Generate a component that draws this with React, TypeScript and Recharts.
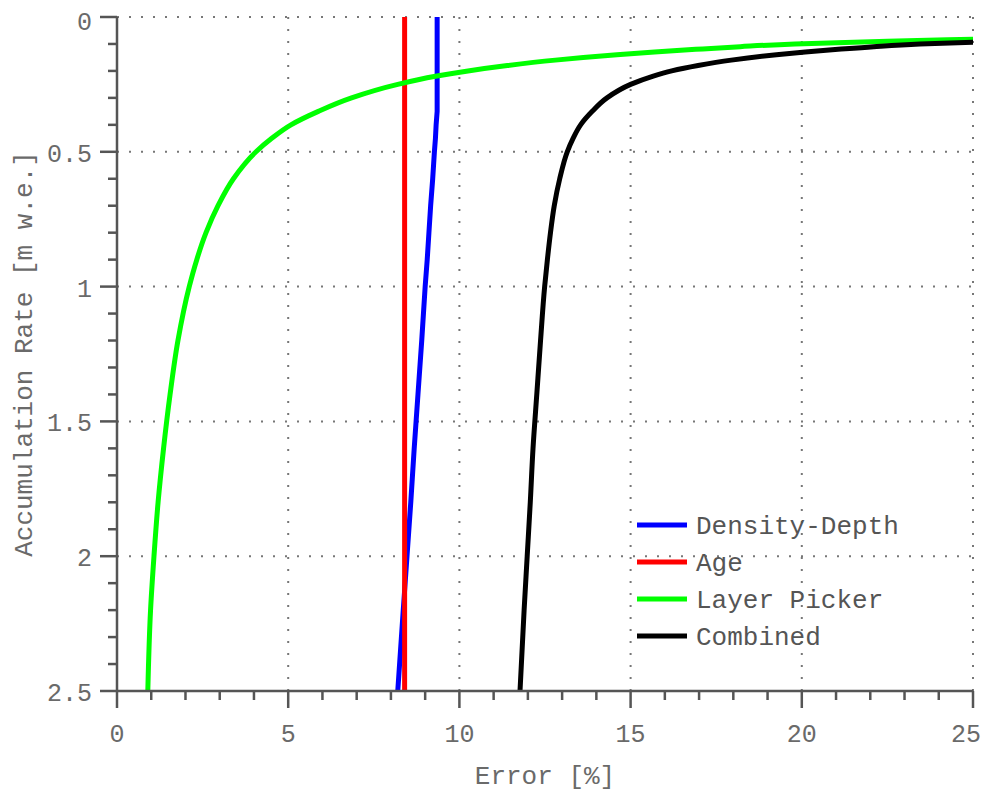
import React from "react";
import { LineChart, Line, XAxis, YAxis, ReferenceLine, Legend } from "recharts";

// accumulation rate [m w.e.] (y axis, 0 at top)
const rates = [
  0, 0.075, 0.08, 0.09, 0.1, 0.11, 0.12, 0.13, 0.14, 0.16, 0.18, 0.2, 0.22, 0.25, 0.3, 0.35, 0.4, 0.45, 0.5,
  0.6, 0.7, 0.8, 0.9, 1.0, 1.2, 1.4, 1.6, 1.8, 2.0, 2.2, 2.5,
];
// error [%] per series
const densityDepth = [
  9.35, 9.35, 9.35, 9.35, 9.35, 9.35, 9.35, 9.35, 9.35, 9.35, 9.35, 9.35, 9.35, 9.35, 9.35, 9.35, 9.32, 9.3,
  9.27, 9.22, 9.16, 9.11, 9.06, 9.0, 8.9, 8.79, 8.68, 8.58, 8.47, 8.36, 8.2,
];
const age = [
  8.4, 8.4, 8.4, 8.4, 8.4, 8.4, 8.4, 8.4, 8.4, 8.4, 8.4, 8.4, 8.4, 8.4, 8.4, 8.4, 8.4, 8.4, 8.4, 8.4, 8.4, 8.4,
  8.4, 8.4, 8.4, 8.4, 8.4, 8.4, 8.4, 8.4, 8.4,
];
const layerPicker = [
  null, 27.3, 25.8, 22.5, 19.8, 18.2, 16.9, 15.7, 14.6, 12.8, 11.4, 10.25, 9.3, 8.2, 6.85, 5.88, 5.08, 4.52,
  4.06, 3.4, 2.95, 2.6, 2.33, 2.11, 1.78, 1.55, 1.36, 1.2, 1.08, 0.98, 0.9,
];
const combined = [
  null, 30.05, 28.7, 25.77, 23.45, 22.1, 21.06, 20.1, 19.26, 17.94, 16.97, 16.2, 15.64, 15.0, 14.31, 13.88,
  13.54, 13.32, 13.15, 12.93, 12.77, 12.66, 12.57, 12.49, 12.37, 12.26, 12.15, 12.07, 11.98, 11.89, 11.77,
];

const xTicks = [0, 1, 2, 3, 4, 5, 6, 7, 8, 9, 10, 11, 12, 13, 14, 15, 16, 17, 18, 19, 20, 21, 22, 23, 24, 25];
const yTicks = [
  0, 0.1, 0.2, 0.3, 0.4, 0.5, 0.6, 0.7, 0.8, 0.9, 1, 1.1, 1.2, 1.3, 1.4, 1.5, 1.6, 1.7, 1.8, 1.9, 2, 2.1, 2.2,
  2.3, 2.4, 2.5,
];
const xGrid = [5, 10, 15, 20, 25];
const yGrid = [0, 0.5, 1, 1.5, 2];

const series = [
  { key: "density", name: "Density-Depth", color: "#0000ff", type: "linear" },
  { key: "age", name: "Age", color: "#ff0000", type: "linear" },
  { key: "layer", name: "Layer Picker", color: "#00ff00", type: "monotoneY" },
  { key: "combined", name: "Combined", color: "#000000", type: "monotoneY" },
];

const rows = rates.map((rate, i) => ({
  rate,
  density: densityDepth[i],
  age: age[i],
  layer: layerPicker[i],
  combined: combined[i],
}));

const FONT = "'Courier New', 'Liberation Mono', monospace";
const AXIS = "#555";
const TEXT = "#6a6a6a";
const FS = 25;

function XTick(props: any) {
  const { x, y, payload } = props;
  const major = payload.value % 5 === 0;
  // last label would run past the page edge, so pin its right side to it
  const last = payload.value === xTicks[xTicks.length - 1];
  return (
    <g>
      <line x1={x} x2={x} y1={y} y2={y + (major ? 17 : 9)} stroke={AXIS} strokeWidth={2.5} />
      {major && (
        <text
          x={last ? x + 8 : x}
          y={y + 51}
          textAnchor={last ? "end" : "middle"}
          fontFamily={FONT}
          fontSize={FS}
          fill={TEXT}
        >
          {payload.value}
        </text>
      )}
    </g>
  );
}

function YTick(props: any) {
  const { x, y, payload } = props;
  const v = payload.value;
  const major = Math.abs(v * 2 - Math.round(v * 2)) < 1e-6;
  return (
    <g>
      <line x1={x} x2={x - (major ? 17 : 9)} y1={y} y2={y} stroke={AXIS} strokeWidth={2.5} />
      {major && (
        <text x={x - 25} y={y + (v === 0 ? 13 : 10)} textAnchor="end" fontFamily={FONT} fontSize={FS} fill={TEXT}>
          {v}
        </text>
      )}
    </g>
  );
}

function LegendBox() {
  return (
    <svg width={290} height={150}>
      {series.map((s, i) => (
        <g key={s.key}>
          <line x1={0} x2={50} y1={17 + i * 37} y2={17 + i * 37} stroke={s.color} strokeWidth={5} />
          <text x={59} y={26 + i * 37} fontFamily={FONT} fontSize={FS + 1} fill="#555">
            {s.name}
          </text>
        </g>
      ))}
    </svg>
  );
}

export default function App() {
  return (
    <LineChart
      width={973}
      height={785}
      data={rows}
      layout="vertical"
      margin={{ top: 9, right: 8, left: 0, bottom: 0 }}
    >
      {xGrid.map((v) => (
        <ReferenceLine key={"gx" + v} x={v} stroke="#777" strokeWidth={2} strokeDasharray="2 10" />
      ))}
      {yGrid.map((v) => (
        <ReferenceLine key={"gy" + v} y={v} stroke="#777" strokeWidth={2} strokeDasharray="2 10" />
      ))}
      <XAxis
        type="number"
        domain={[0, 25]}
        allowDataOverflow
        ticks={xTicks}
        interval={0}
        height={102}
        tickSize={0}
        tickMargin={0}
        tickLine={false}
        tick={<XTick />}
        axisLine={{ stroke: AXIS, strokeWidth: 2.5 }}
        label={{ value: "Error [%]", position: "insideBottom", offset: 9, fontFamily: FONT, fontSize: FS + 1, fill: TEXT }}
      />
      <YAxis
        type="number"
        dataKey="rate"
        domain={[0, 2.5]}
        allowDataOverflow
        ticks={yTicks}
        interval={0}
        width={109}
        tickSize={0}
        tickMargin={0}
        tickLine={false}
        tick={<YTick />}
        axisLine={{ stroke: AXIS, strokeWidth: 2.5 }}
        label={{
          value: "Accumulation Rate [m w.e.]",
          angle: -90,
          position: "insideLeft",
          offset: 15,
          style: { textAnchor: "middle" },
          fontFamily: FONT,
          fontSize: FS + 1,
          fill: TEXT,
        }}
      />
      <Legend
        layout="horizontal"
        verticalAlign="middle"
        align="center"
        content={<LegendBox />}
        wrapperStyle={{ left: 629, top: 500, width: 290, height: 150 }}
      />
      {series.map((s) => (
        <Line
          key={s.key}
          dataKey={s.key}
          name={s.name}
          type={s.type as any}
          stroke={s.color}
          strokeWidth={5}
          dot={false}
          activeDot={false}
          isAnimationActive={false}
        />
      ))}
    </LineChart>
  );
}
